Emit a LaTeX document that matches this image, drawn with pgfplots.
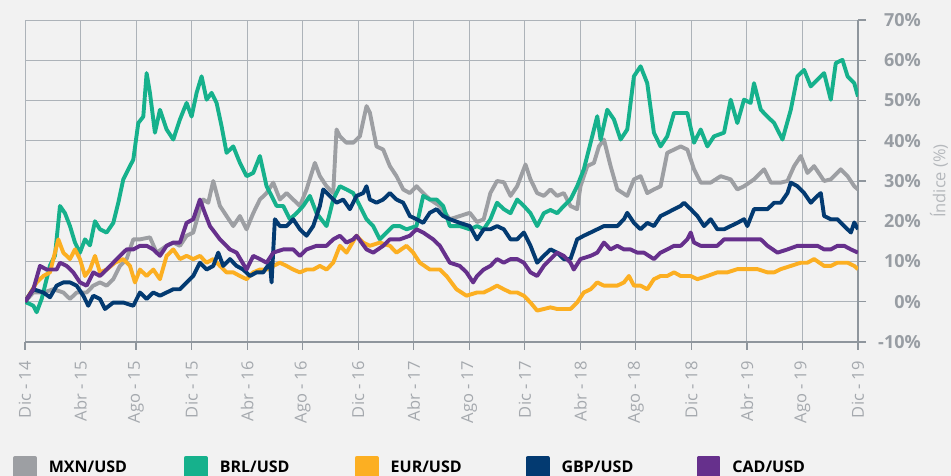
\documentclass[border=0pt]{standalone}
\usepackage{fontspec}
\setmainfont{Open Sans}
\usepackage{pgfplots}
\pgfplotsset{compat=1.18}
\definecolor{bgc}{HTML}{F2F2F2}
\definecolor{gridc}{HTML}{ADB3B9}
\definecolor{axc}{HTML}{8F969D}
\definecolor{tickc}{HTML}{989DA3}
\definecolor{xlabc}{HTML}{A5A9AE}
\definecolor{ylabc}{HTML}{B5B8BC}
\definecolor{mxn}{HTML}{9D9FA3}
\definecolor{brl}{HTML}{16B18C}
\definecolor{eur}{HTML}{FCAF22}
\definecolor{gbp}{HTML}{033A71}
\definecolor{cad}{HTML}{66308C}
\begin{document}
\begin{tikzpicture}
\fill[bgc] (-25pt,-134pt) rectangle (926pt,342pt);
\begin{axis}[
  at={(0pt,0pt)}, anchor=south west,
  scale only axis, width=833pt, height=322pt,
  xmin=0, xmax=60, ymin=-10, ymax=70,
  axis x line=bottom, axis y line=right,
  axis line style={-, axc, line width=1.6pt},
  xtick={0,4,...,60},
  xticklabels={Dic - 14,Abr - 15,Ago - 15,Dic - 15,Abr - 16,Ago - 16,Dic - 16,Abr - 17,Ago - 17,Dic - 17,Abr - 18,Ago - 18,Dic - 18,Abr - 19,Ago - 19,Dic - 19},
  ytick={-10,0,10,20,30,40,50,60,70},
  yticklabels={-10\%,0\%,10\%,20\%,30\%,40\%,50\%,60\%,70\%},
  grid=major, grid style={gridc, line width=0.9pt},
  tick align=outside, major tick length=8pt,
  tick style={axc, line width=1.2pt},
  xticklabel style={rotate=90, anchor=east, inner sep=0pt, text=xlabc, font=\fontsize{16.5}{16.5}\selectfont, xshift=-11pt},
  yticklabel style={anchor=east, inner sep=0pt, text=tickc, font=\fontsize{18}{18}\selectfont\bfseries, xshift=55pt},
  every axis y label/.style={at={(axis description cs:1,0.5)}, xshift=81pt, rotate=90, anchor=center, text=ylabc, font=\fontsize{16.5}{16.5}\selectfont},
  ylabel={Índice (\%)},
  every axis plot/.append style={line width=3.9pt, line join=round, no markers},
  legend columns=5,
  legend image code/.code={\fill (0pt,-10pt) rectangle (20pt,10pt); \path (32pt,0pt);},
  legend style={at={(axis description cs:0,0)}, anchor=north west, xshift=-12pt, yshift=-114pt, draw=none, fill=none, inner sep=0pt, outer sep=0pt,
    font=\fontsize{16}{16}\selectfont\bfseries, text=black,
    nodes={inner sep=0pt, text width=135pt},
    /tikz/every even column/.append style={column sep=0pt},
    /tikz/every odd column/.append style={column sep=0pt}},
]
\addplot[color=mxn] coordinates {(0,0) (0.60,2.3) (1.32,2.3) (2.04,3.1) (2.76,2.3) (3.24,0.7) (3.72,2.3) (4.44,2.3) (4.92,4.0) (5.40,4.8) (5.88,4.0) (6.36,5.6) (6.84,8.9) (7.32,10.6) (7.80,15.5) (8.28,15.5) (9.00,16.0) (9.48,12.2) (10.20,13.9) (10.68,14.7) (11.16,13.9) (11.64,16.4) (12.12,17.2) (12.60,23.0) (12.84,25.4) (13.20,24.6) (13.56,30.0) (14.04,23.8) (14.52,21.3) (15.00,18.8) (15.48,21.3) (15.96,18.0) (16.44,22.0) (16.92,25.4) (17.40,27.0) (17.88,29.6) (18.36,25.4) (18.84,27.0) (19.32,25.4) (19.80,23.8) (20.28,27.9) (20.88,34.5) (21.24,31.2) (21.72,28.7) (22.20,27.0) (22.44,42.8) (22.68,41.1) (23.16,39.5) (23.64,39.5) (24.12,41.1) (24.60,48.6) (24.84,47.0) (25.32,38.6) (25.80,37.8) (26.28,33.7) (26.76,31.2) (27.24,27.9) (27.72,27.0) (28.20,28.7) (28.68,27.0) (29.16,25.4) (29.88,23.8) (30.60,20.5) (31.32,21.3) (32.04,22.1) (32.56,19.8) (33.04,20.5) (33.52,27.0) (34.00,30.0) (34.49,29.7) (34.97,26.3) (35.45,28.7) (36.05,34.1) (36.41,30.4) (36.89,27.0) (37.37,26.3) (37.85,27.9) (38.33,26.3) (38.81,27.0) (39.29,23.8) (39.77,23.0) (40.01,28.7) (40.50,33.7) (40.98,34.5) (41.34,38.6) (41.70,40.3) (42.18,33.7) (42.66,27.9) (43.38,26.3) (43.86,30.4) (44.34,31.2) (44.82,27.0) (45.30,27.9) (45.78,28.7) (46.26,37.0) (46.75,37.8) (47.23,38.6) (47.71,37.8) (48.19,32.9) (48.67,29.6) (49.39,29.6) (50.11,31.2) (50.83,30.4) (51.31,27.9) (51.79,28.7) (52.51,30.4) (53.24,32.9) (53.72,29.6) (54.44,29.6) (54.92,30.0) (55.40,33.7) (55.88,36.2) (56.36,32.0) (56.84,33.7) (57.56,30.0) (58.04,30.4) (58.76,32.9) (59.25,31.2) (59.73,28.7) (60,27.9)};
\addlegendentry{MXN/USD}
\addplot[color=brl] coordinates {(0,0) (0.60,-1.0) (0.84,-2.6) (1.20,0.7) (1.80,9.0) (2.16,11.5) (2.52,23.8) (2.88,22.0) (3.24,18.8) (3.60,14.7) (3.96,12.2) (4.32,15.5) (4.68,14.0) (5.04,20.0) (5.40,18.0) (5.88,17.2) (6.36,19.6) (6.72,24.6) (7.08,30.4) (7.44,32.9) (7.80,35.3) (8.16,44.4) (8.52,46.0) (8.76,56.8) (9.00,51.9) (9.36,42.0) (9.72,47.7) (10.20,42.8) (10.68,40.3) (11.16,45.3) (11.64,49.4) (12.00,46.0) (12.36,51.9) (12.72,56.0) (13.08,50.2) (13.44,51.9) (13.80,49.4) (14.16,43.6) (14.52,37.0) (15.00,38.6) (15.48,34.5) (15.96,31.2) (16.44,32.0) (16.92,36.2) (17.40,28.7) (17.76,26.3) (18.12,23.8) (18.60,23.8) (19.08,20.5) (19.56,22.0) (20.04,23.8) (20.52,26.3) (21.00,22.0) (21.72,18.8) (22.20,25.4) (22.68,28.7) (23.16,27.9) (23.64,27.0) (24.12,23.8) (24.60,20.5) (25.08,18.8) (25.56,15.5) (26.04,17.2) (26.52,18.8) (27.00,18.8) (27.48,18.0) (28.20,18.8) (28.68,26.3) (29.16,25.4) (29.64,25.4) (30.12,23.8) (30.60,18.8) (31.32,18.8) (32.04,18.0) (32.56,18.8) (33.04,18.0) (33.52,20.5) (34.00,24.6) (34.49,23.0) (34.97,22.0) (35.45,25.4) (35.93,23.8) (36.41,22.0) (36.89,18.8) (37.37,22.0) (37.85,22.8) (38.33,22.0) (38.81,23.8) (39.29,25.4) (39.77,28.7) (40.25,32.9) (40.74,39.5) (41.22,46.1) (41.46,40.2) (41.94,47.7) (42.42,45.3) (42.90,40.3) (43.38,42.8) (43.86,56.0) (44.34,58.5) (44.82,54.3) (45.30,42.0) (45.78,38.6) (46.26,41.1) (46.75,46.9) (47.23,46.9) (47.71,46.9) (48.19,39.5) (48.67,42.8) (49.15,38.6) (49.63,41.1) (50.35,42.0) (50.83,50.2) (51.31,44.4) (51.79,50.2) (52.27,49.4) (52.51,54.3) (53.00,47.7) (53.48,46.0) (53.96,44.4) (54.56,40.3) (55.16,47.7) (55.64,56.0) (56.12,57.6) (56.60,53.5) (57.08,55.2) (57.56,56.8) (58.04,50.2) (58.40,59.3) (58.88,60.1) (59.25,56.0) (59.73,54.3) (60,51.0)};
\addlegendentry{BRL/USD}
\addplot[color=eur] coordinates {(0,0) (0.84,4.8) (1.32,6.4) (1.80,7.3) (2.40,15.5) (2.76,12.2) (3.24,10.6) (3.60,13.0) (3.96,10.6) (4.32,6.4) (4.68,8.0) (5.04,11.4) (5.40,7.3) (5.88,8.0) (6.48,9.7) (7.08,10.6) (7.56,8.9) (7.92,4.8) (8.28,8.0) (8.76,6.4) (9.24,8.0) (9.72,5.6) (10.20,11.4) (10.68,13.0) (11.16,10.6) (11.64,11.4) (12.12,10.6) (12.60,11.4) (13.08,9.7) (13.56,10.6) (14.04,8.9) (14.52,7.3) (15.00,7.3) (15.48,6.4) (15.96,5.6) (16.44,7.3) (16.92,8.0) (17.40,8.0) (17.88,8.9) (18.36,9.7) (18.84,8.9) (19.32,8.0) (19.80,7.3) (20.28,8.0) (20.76,8.0) (21.24,8.9) (21.72,8.0) (22.20,9.7) (22.68,13.9) (23.16,12.2) (23.88,16.4) (24.36,14.7) (24.84,13.9) (25.56,14.7) (26.28,13.9) (26.76,12.2) (27.48,13.9) (27.96,12.2) (28.44,9.7) (29.16,8.0) (29.88,8.0) (30.36,6.4) (31.08,3.1) (31.80,1.5) (32.56,2.3) (33.04,2.3) (33.52,3.1) (34.00,4.0) (34.49,3.1) (34.97,2.3) (35.45,2.3) (35.93,1.5) (36.41,-0.2) (36.89,-2.2) (37.37,-1.8) (37.85,-1.4) (38.33,-1.8) (38.81,-1.8) (39.29,-1.8) (39.77,-0.2) (40.25,2.3) (40.74,3.1) (41.22,4.8) (41.70,4.0) (42.18,4.0) (42.66,4.0) (43.14,4.8) (43.50,6.4) (43.86,4.0) (44.34,4.0) (44.82,3.1) (45.30,5.6) (45.78,6.4) (46.26,6.4) (46.75,7.3) (47.23,6.4) (47.95,6.4) (48.43,5.6) (49.15,6.4) (49.87,7.3) (50.59,7.3) (51.31,8.1) (52.03,8.1) (52.76,8.1) (53.48,7.3) (53.96,7.3) (54.44,8.1) (55.16,8.9) (55.88,9.7) (56.36,9.7) (56.84,10.6) (57.56,8.9) (58.04,8.9) (58.52,9.7) (59.25,9.7) (59.73,8.9) (60,8.1)};
\addlegendentry{EUR/USD}
\addplot[color=gbp] coordinates {(0,0) (0.60,3.1) (1.32,2.3) (1.80,1.1) (2.28,4.0) (2.76,4.8) (3.24,4.8) (3.72,4.0) (4.20,1.5) (4.56,-1.0) (4.92,1.5) (5.40,0.7) (5.76,-1.8) (6.36,-0.2) (7.08,-0.2) (7.80,-1.0) (8.28,2.3) (8.76,0.7) (9.24,2.3) (9.72,1.5) (10.20,2.3) (10.68,3.1) (11.16,3.1) (11.64,4.8) (12.12,6.4) (12.60,9.7) (13.08,8.0) (13.56,8.9) (13.92,12.2) (14.28,8.9) (14.76,10.6) (15.24,8.9) (15.72,8.0) (16.20,6.4) (16.68,7.3) (17.16,7.3) (17.64,9.7) (17.76,4.8) (18.00,20.5) (18.36,18.8) (18.84,18.8) (19.32,20.5) (19.80,18.0) (20.28,16.4) (20.76,18.8) (21.24,23.8) (21.48,27.9) (21.96,26.3) (22.44,24.6) (22.92,25.4) (23.40,23.0) (23.88,26.3) (24.36,27.0) (24.60,28.7) (24.84,25.4) (25.32,24.6) (25.80,25.4) (26.28,27.0) (26.76,25.4) (27.24,24.6) (27.72,21.3) (28.20,20.5) (28.68,19.6) (29.16,22.1) (29.64,23.0) (30.12,21.3) (30.60,20.5) (31.32,19.6) (32.04,18.8) (32.56,15.5) (33.04,18.0) (33.52,18.0) (34.00,18.8) (34.49,18.0) (34.97,15.5) (35.45,15.5) (35.93,17.2) (36.41,13.9) (36.89,9.7) (37.37,11.4) (37.85,13.0) (38.33,12.2) (38.81,10.6) (39.29,10.6) (39.77,15.5) (40.25,16.4) (40.74,17.2) (41.22,18.0) (41.70,18.8) (42.18,18.8) (42.66,18.8) (43.14,20.5) (43.38,22.1) (43.86,19.6) (44.34,18.0) (44.82,19.6) (45.30,18.8) (45.78,21.3) (46.26,22.1) (46.75,23.0) (47.23,23.8) (47.47,24.6) (47.95,23.0) (48.43,21.3) (48.91,18.8) (49.39,20.5) (49.87,18.0) (50.35,18.0) (50.83,18.8) (51.31,19.6) (51.79,20.5) (52.03,18.8) (52.51,23.0) (53.00,23.0) (53.48,23.0) (53.96,24.6) (54.44,24.6) (54.92,27.0) (55.16,29.6) (55.64,28.7) (56.12,27.0) (56.60,24.6) (57.08,26.3) (57.32,27.0) (57.56,21.3) (58.04,20.5) (58.52,20.5) (59.00,18.8) (59.49,17.2) (59.73,19.7) (60,18.0)};
\addlegendentry{GBP/USD}
\addplot[color=cad] coordinates {(0,0) (0.60,3.1) (1.08,8.9) (1.56,8.0) (2.28,8.0) (2.52,9.7) (3.00,8.9) (3.48,7.3) (3.96,4.8) (4.44,4.0) (4.92,7.3) (5.40,6.4) (5.88,8.0) (6.36,9.7) (6.84,11.4) (7.32,13.0) (7.80,13.0) (8.28,13.9) (8.76,13.9) (9.24,13.0) (9.72,11.4) (10.20,13.9) (10.68,14.7) (11.16,14.7) (11.64,19.6) (12.12,20.5) (12.60,25.4) (12.96,22.0) (13.32,18.8) (14.04,15.5) (14.76,13.0) (15.24,12.2) (15.96,8.0) (16.44,11.4) (16.92,10.6) (17.40,9.7) (17.88,12.2) (18.60,13.0) (19.32,13.0) (19.80,11.4) (20.28,13.0) (21.00,13.9) (21.72,13.9) (22.20,15.5) (22.68,16.4) (23.16,14.7) (23.64,15.5) (23.88,16.4) (24.60,13.0) (25.08,12.2) (25.80,13.9) (26.28,15.5) (27.00,15.5) (27.72,16.4) (28.20,18.0) (28.68,17.2) (29.40,15.5) (29.88,13.9) (30.60,9.7) (31.32,8.9) (31.80,7.3) (32.28,4.8) (32.56,6.4) (33.04,8.0) (33.52,8.9) (34.00,10.6) (34.49,9.7) (34.97,10.6) (35.45,10.6) (35.93,9.7) (36.41,7.3) (36.89,6.4) (37.37,8.9) (37.85,10.6) (38.33,12.2) (38.81,11.4) (39.29,9.7) (39.53,8.0) (40.01,10.6) (40.74,11.4) (41.22,12.2) (41.70,14.7) (42.18,13.0) (42.66,13.9) (43.14,13.0) (43.62,13.0) (44.10,12.2) (44.58,12.2) (45.30,10.6) (45.78,12.2) (46.26,13.0) (46.75,13.9) (47.23,13.9) (47.71,15.5) (47.95,17.2) (48.19,14.7) (48.67,13.9) (49.15,13.9) (49.87,13.9) (50.35,15.5) (51.07,15.5) (51.79,15.5) (52.51,15.5) (53.00,15.5) (53.48,13.9) (54.20,12.2) (54.92,13.0) (55.64,13.9) (56.36,13.9) (57.08,13.9) (57.56,13.0) (58.04,13.0) (58.52,13.9) (59.00,13.9) (59.49,13.0) (60,12.2)};
\addlegendentry{CAD/USD}
\end{axis}
\pgfresetboundingbox
\useasboundingbox (-25pt,-134pt) rectangle (926pt,342pt);
\end{tikzpicture}
\end{document}
